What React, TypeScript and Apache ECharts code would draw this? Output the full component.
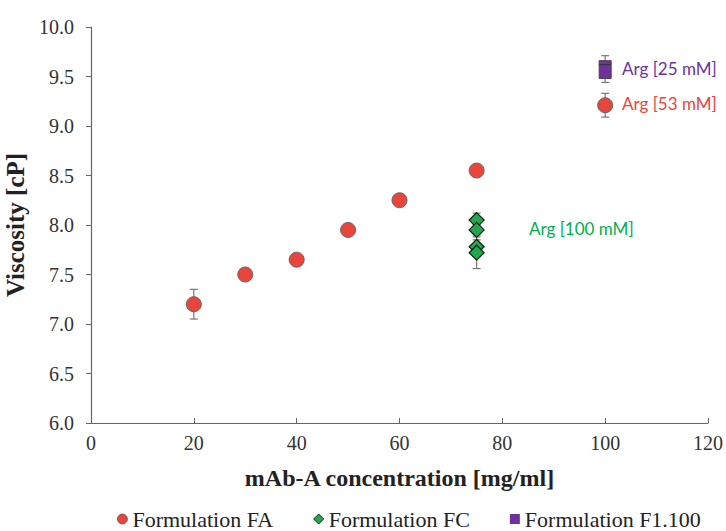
import React, { useEffect, useRef } from "react";
import * as echarts from "echarts";

const faX = [20, 30, 40, 50, 60, 75];
const faY = [7.2, 7.5, 7.65, 7.95, 8.25, 8.55];
const faErr = [0.15, 0.03, 0.05, 0.05, 0.05, 0.05];

const fcX = [75, 75, 75, 75];
const fcY = [8.05, 7.95, 7.78, 7.72];
const fcErr = [0.07, 0.05, 0.07, 0.16];

// F1.100 box: [x, low, q1, median, q3, high]
const boxData = [[100, 9.44, 9.48, 9.62, 9.66, 9.71]];

// key marker for "Arg [53 mM]"
const keyX = [100];
const keyY = [9.21];
const keyErr = [0.12];

const xTicks = [0, 20, 40, 60, 80, 100, 120];
const yTicks = [6.0, 6.5, 7.0, 7.5, 8.0, 8.5, 9.0, 9.5, 10.0];

const RED = "#E8463D";
const GREEN = "#1FA84C";
const PURPLE = "#7030A0";
const SERIF = "'Liberation Serif', 'Times New Roman', serif";
const SANS = "Lato, sans-serif";

function errData(xs: number[], ys: number[], es: number[]) {
  return xs.map((x, i) => [x, ys[i] - es[i], ys[i] + es[i]]);
}

function errRender(params: any, api: any) {
  const x = api.value(0);
  const lo = api.coord([x, api.value(1)]);
  const hi = api.coord([x, api.value(2)]);
  const cap = 4;
  const style = { stroke: "#777", lineWidth: 1.2 };
  return {
    type: "group",
    children: [
      { type: "line", shape: { x1: lo[0], y1: lo[1], x2: hi[0], y2: hi[1] }, style },
      { type: "line", shape: { x1: lo[0] - cap, y1: lo[1], x2: lo[0] + cap, y2: lo[1] }, style },
      { type: "line", shape: { x1: hi[0] - cap, y1: hi[1], x2: hi[0] + cap, y2: hi[1] }, style },
    ],
  };
}

function boxRender(params: any, api: any) {
  const x = api.value(0);
  const low = api.coord([x, api.value(1)]);
  const q1 = api.coord([x, api.value(2)]);
  const med = api.coord([x, api.value(3)]);
  const q3 = api.coord([x, api.value(4)]);
  const high = api.coord([x, api.value(5)]);
  const hw = 6;
  const cap = 4;
  const ls = { stroke: "#777", lineWidth: 1.2 };
  return {
    type: "group",
    children: [
      { type: "line", shape: { x1: low[0], y1: low[1], x2: q1[0], y2: q1[1] }, style: ls },
      { type: "line", shape: { x1: q3[0], y1: q3[1], x2: high[0], y2: high[1] }, style: ls },
      { type: "line", shape: { x1: low[0] - cap, y1: low[1], x2: low[0] + cap, y2: low[1] }, style: ls },
      { type: "line", shape: { x1: high[0] - cap, y1: high[1], x2: high[0] + cap, y2: high[1] }, style: ls },
      {
        type: "rect",
        shape: { x: q3[0] - hw, y: q3[1], width: hw * 2, height: q1[1] - q3[1] },
        style: { fill: PURPLE, stroke: "#444", lineWidth: 1 },
      },
      { type: "line", shape: { x1: med[0] - hw, y1: med[1], x2: med[0] + hw, y2: med[1] }, style: { stroke: "#333", lineWidth: 1 } },
    ],
  };
}

export default function App() {
  const ref = useRef<HTMLDivElement>(null);
  useEffect(() => {
    if (!ref.current) return;
    const chart = echarts.init(ref.current, undefined, { renderer: "svg" });
    chart.setOption({
      animation: false,
      backgroundColor: "#fff",
      grid: {
        left: 91,
        right: 18,
        top: 27,
        bottom: 108,
        containLabel: false,
        outerBoundsMode: "none",
      },
      xAxis: {
        type: "value",
        min: 0,
        max: 120,
        interval: 20,
        name: "mAb-A concentration [mg/ml]",
        nameLocation: "middle",
        nameGap: 43,
        nameTextStyle: { fontFamily: SERIF, fontWeight: "bold", fontSize: 24, color: "#222" },
        axisLine: { show: true, lineStyle: { color: "#666", width: 1.2 } },
        axisTick: { show: true, inside: true, length: 5, lineStyle: { color: "#666" } },
        axisLabel: {
          fontFamily: SERIF,
          fontSize: 20,
          color: "#333",
          margin: 10,
          formatter: (v: number) => (xTicks.includes(v) ? String(v) : ""),
        },
        splitLine: { show: false },
      },
      yAxis: {
        type: "value",
        min: 6,
        max: 10,
        interval: 0.5,
        name: "Viscosity [cP]",
        nameLocation: "middle",
        nameGap: 60,
        nameTextStyle: { fontFamily: SERIF, fontWeight: "bold", fontSize: 25, color: "#222" },
        axisLine: { show: true, lineStyle: { color: "#666", width: 1.2 } },
        axisTick: { show: true, inside: false, length: 5, lineStyle: { color: "#666" } },
        axisLabel: {
          fontFamily: SERIF,
          fontSize: 20,
          color: "#333",
          margin: 17,
          formatter: (v: number) => {
            const t = yTicks.find((y) => Math.abs(y - v) < 1e-6);
            return t !== undefined ? t.toFixed(1) : "";
          },
        },
        splitLine: { show: false },
      },
      legend: {
        top: 503,
        left: 112,
        itemGap: 40,
        itemWidth: 10,
        itemHeight: 10,
        textStyle: { fontFamily: SERIF, fontSize: 22, color: "#222" },
        data: [
          { name: "Formulation FA", icon: "circle", itemStyle: { color: RED, borderColor: "#555", borderWidth: 0.8 } },
          { name: "Formulation FC", icon: "diamond", itemStyle: { color: GREEN, borderColor: "#222", borderWidth: 1 } },
          { name: "Formulation F1.100", icon: "rect", itemStyle: { color: PURPLE, borderWidth: 0 } },
        ],
      },
      series: [
        {
          name: "errFA",
          type: "custom",
          renderItem: errRender,
          data: errData(faX, faY, faErr),
          encode: { x: 0, y: [1, 2] },
          z: 1,
        },
        {
          name: "errFC",
          type: "custom",
          renderItem: errRender,
          data: errData(fcX, fcY, fcErr),
          encode: { x: 0, y: [1, 2] },
          z: 1,
        },
        {
          name: "errKey",
          type: "custom",
          renderItem: errRender,
          data: errData(keyX, keyY, keyErr),
          encode: { x: 0, y: [1, 2] },
          z: 1,
        },
        {
          name: "Formulation FA",
          type: "scatter",
          symbol: "circle",
          symbolSize: 15,
          itemStyle: { color: RED, borderColor: "#666", borderWidth: 1, opacity: 1 },
          data: faX.map((x, i) => [x, faY[i]]),
          z: 3,
        },
        {
          name: "keyFA",
          type: "scatter",
          symbol: "circle",
          symbolSize: 15,
          itemStyle: { color: RED, borderColor: "#666", borderWidth: 1, opacity: 1 },
          data: keyX.map((x, i) => [x, keyY[i]]),
          z: 3,
        },
        {
          name: "Formulation FC",
          type: "scatter",
          symbol: "diamond",
          symbolSize: [15, 15],
          itemStyle: { color: GREEN, borderColor: "#1a1a1a", borderWidth: 1.2, opacity: 1 },
          data: fcX.map((x, i) => [x, fcY[i]]),
          z: 3,
        },
        {
          name: "Formulation F1.100",
          type: "custom",
          renderItem: boxRender,
          data: boxData,
          encode: { x: 0, y: [1, 5] },
          itemStyle: { color: PURPLE },
          z: 3,
        },
      ],
      graphic: [
        { type: "text", left: 622, top: 60, style: { text: "Arg [25 mM]", fill: PURPLE, font: `17px ${SANS}` } },
        { type: "text", left: 622, top: 95, style: { text: "Arg [53 mM]", fill: RED, font: `17px ${SANS}` } },
        { type: "text", left: 529, top: 220, style: { text: "Arg [100 mM]", fill: "#00B050", font: `17px ${SANS}` } },
      ],
    });
    return () => chart.dispose();
  }, []);
  return (
    <div
      ref={ref}
      style={{ position: "fixed", left: 0, top: 0, width: 726, height: 531 }}
    />
  );
}
